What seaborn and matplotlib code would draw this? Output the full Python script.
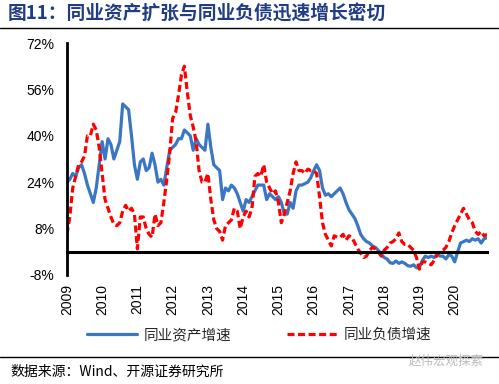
import numpy as np
import pandas as pd
import matplotlib
matplotlib.use('Agg')
import matplotlib.pyplot as plt
import seaborn as sns

# monthly data, 2009-01 .. 2020-12 (%, yoy)
months = np.arange(144)
asset_growth = [
    24, 25, 27, 26, 29, 30, 27, 23, 20, 17, 22, 30,          # 2009
    38, 32, 39, 37, 32, 35, 38, 51, 50, 49, 40, 30,          # 2010
    25, 31, 32, 28, 29, 34, 30, 24, 25, 23, 29, 35,          # 2011
    36, 37, 39, 39, 42, 41, 40, 35, 39, 37, 36, 35,          # 2012
    44, 36, 30, 29, 28, 18, 22, 21, 23, 22, 20, 17,          # 2013
    14, 18, 17, 19, 21, 23, 23, 23, 18, 20, 19, 18,          # 2014
    19, 17, 13, 13, 17, 15, 21, 23, 23, 23.5, 24, 25.5,      # 2015
    28, 30, 28, 22, 19.5, 20, 19, 20, 21, 22, 20, 17,        # 2016
    14.5, 13, 11.5, 9, 6, 4.5, 3.5, 3, 2, 1.5, 0.5, -0.8,    # 2017
    -2, -2.5, -3.8, -4, -3.2, -4, -3.5, -4, -4.8, -5, -4.5, -5.5,  # 2018
    -5.5, -3, -1.5, -2, -1.5, -2, -1, -1.5, -1.5, -2.5, -1, -1.5,  # 2019
    -3.5, 0, 3, 3.5, 4, 3.5, 4.5, 4, 4.5, 3, 4.5, 4.8,       # 2020
]
liability_growth = [
    6, 12, 22, 26, 30, 31, 33, 40, 40, 44, 42, 36,           # 2009
    27, 18, 15, 12, 9.5, 9, 10, 14, 16, 14, 15, 13,          # 2010
    1, 12, 12, 8, 6, 5, 13, 9, 10, 17, 25, 34,               # 2011
    46, 48, 54, 61, 64, 55, 47, 43, 38, 28, 24, 24,          # 2012
    27, 18, 11, 8, 7, 4, 9, 10, 11, 15, 14, 8,               # 2013
    12, 14, 12, 15, 26, 27, 26, 30, 24, 22, 20, 21,          # 2014
    17, 10, 13, 17, 21, 27, 31, 28, 28, 27, 28.5, 28,        # 2015
    28, 27, 19, 10, 6, 4, 2, 5.5, 5, 5, 6, 4,                # 2016
    5.5, 5, 3, 1, -0.5, -2, -1.5, 0.5, 1.5, 1, 0, -1.5,      # 2017
    0.5, 1.5, 3, 3.5, 4.5, 6.5, 3.5, 2.5, 2.5, 1.5, 0.5, -2, # 2018
    -6, -3.5, -3.5, -4, -4.5, -3, -1, 0, 0.5, 1.5, 3.5, 6.5, # 2019
    9, 11, 13, 15, 13, 11, 10, 7, 6, 7, 5.5, 6,              # 2020
]
series_names = ["同业资产增速", "同业负债增速"]
year_ticks = list(range(2009, 2021))
y_ticks = [-8, 8, 24, 40, 56, 72]

t = 2009 + months / 12
df = pd.DataFrame({
    "t": np.concatenate([t, t]),
    "value": asset_growth + liability_growth,
    "series": [series_names[0]] * 144 + [series_names[1]] * 144,
})

sns.set_theme(style="white")
plt.rcParams['font.family'] = ['Liberation Sans', 'Noto Sans CJK SC']

fig = plt.figure(figsize=(4.99, 3.84), dpi=100)
ax = fig.add_axes([0.134, 0.284, 0.842, 0.604])

sns.lineplot(
    data=df, x="t", y="value", hue="series", style="series",
    palette={series_names[0]: "#3A76C4", series_names[1]: "#FF0000"},
    dashes={series_names[0]: "", series_names[1]: (2.2, 1.1)},
    linewidth=2.3, ax=ax, legend=True,
)
handles, labels = ax.get_legend_handles_labels()
ax.get_legend().remove()

ax.set_xlim(2009, 2009 + 143 / 12)
ax.set_ylim(-8, 72)
ax.set_yticks(y_ticks)
ax.set_yticklabels([f"{v}%" for v in y_ticks])
ax.set_xticks(year_ticks)
ax.set_xticklabels([str(y) for y in year_ticks])
ax.set_xlabel("")
ax.set_ylabel("")

for s in ["top", "right"]:
    ax.spines[s].set_visible(False)
ax.spines["left"].set_linewidth(2)
ax.spines["left"].set_color("black")
ax.spines["bottom"].set_position(("data", 0))
ax.spines["bottom"].set_linewidth(2.2)
ax.spines["bottom"].set_color("black")

ax.tick_params(axis="y", direction="out", length=4, width=1.5, color="black",
               pad=5, labelsize=10, labelcolor="black")
ax.tick_params(axis="x", direction="out", length=4, width=1.5, color="black",
               pad=19, labelsize=10, labelcolor="black", labelrotation=90)
ax.grid(False)

fig.legend(handles, labels, loc="center", bbox_to_anchor=(0.52, 1 - 335 / 384),
           ncol=2, frameon=False, handlelength=3.4, handletextpad=0.5,
           columnspacing=3.8, prop={"family": "Noto Sans CJK SC", "size": 10.5})

# title and rules
fig.text(0.016, 1 - 14 / 384, "图11：同业资产扩张与同业负债迅速增长密切",
         fontsize=13.5, fontweight="bold", color="#1F3C84",
         family=["Noto Sans CJK SC"], va="center", ha="left")
fig.add_artist(plt.Line2D([0.0, 1.0], [1 - 28 / 384] * 2, color="black", lw=1))
fig.add_artist(plt.Line2D([0.0, 1.0], [1 - 357 / 384] * 2, color="black", lw=1))
fig.text(0.02, 1 - 372 / 384, "数据来源：Wind、开源证券研究所", fontsize=10,
         family=["Noto Sans CJK SC"], va="center", ha="left", color="black")
fig.text(0.97, 1 - 361 / 384, "赵伟宏观探索", fontsize=9, color="#BBBBBB",
         family=["Noto Sans CJK SC"], va="center", ha="right")

fig.savefig("out.png", dpi=100, facecolor="white")
